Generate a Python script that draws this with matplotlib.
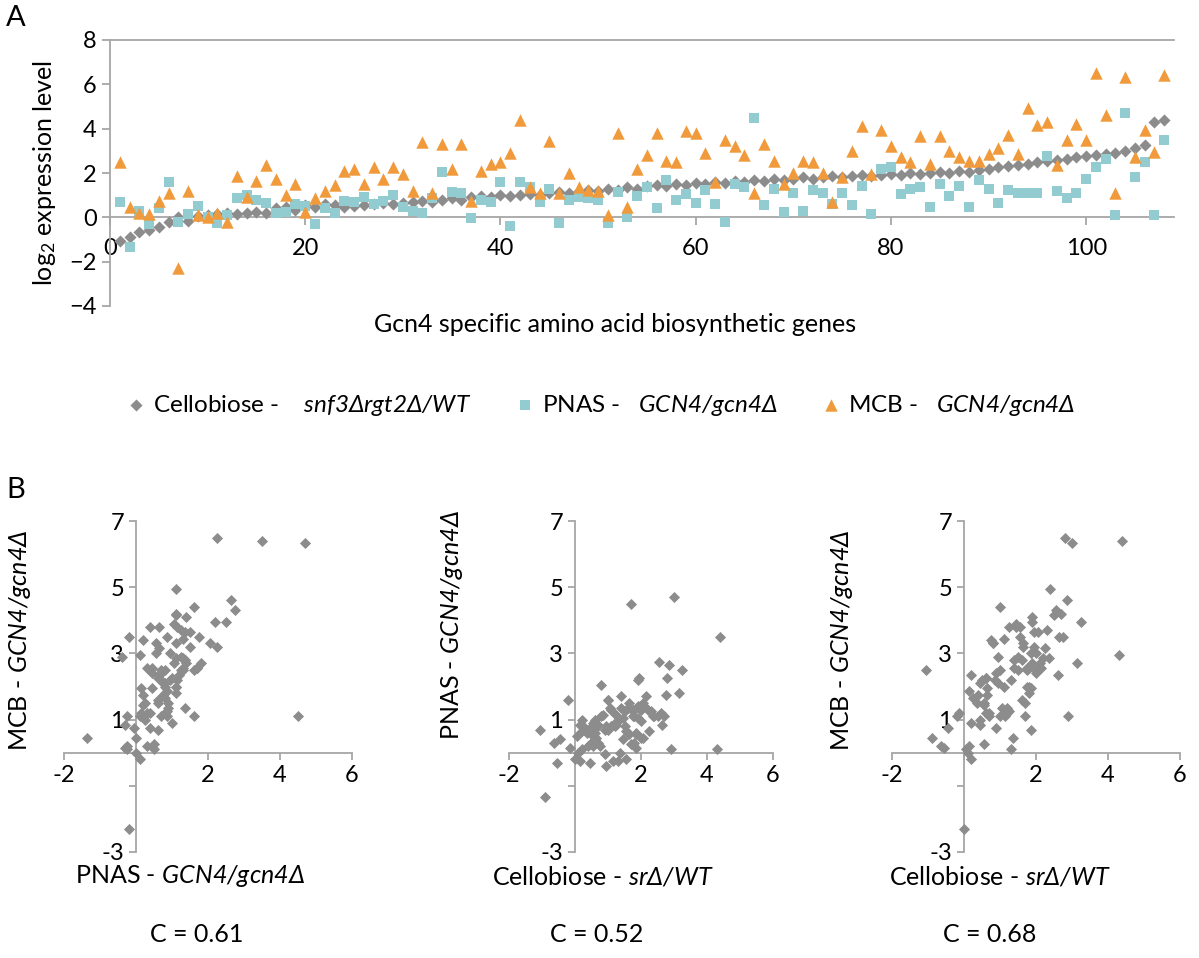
import matplotlib

matplotlib.use("Agg")
import matplotlib.pyplot as plt
import numpy as np

# log2 expression of the Gcn4 target genes, ordered as in panel A
cellobiose = [
    -1.05, -0.9, -0.65, -0.55, -0.45, -0.2, 0.0, -0.15, 0.05, 0.1,
    0.15, 0.2, 0.15, 0.2, 0.25, 0.2, 0.4, 0.45, 0.35, 0.55,
    0.45, 0.6, 0.55, 0.45, 0.5, 0.55, 0.6, 0.65, 0.6, 0.65,
    0.7, 0.75, 0.7, 0.8, 0.85, 0.8, 0.9, 0.95, 0.9, 1.0,
    0.95, 1.0, 1.05, 1.0, 1.1, 1.15, 1.1, 1.2, 1.25, 1.2,
    1.3, 1.25, 1.35, 1.3, 1.4, 1.45, 1.4, 1.5, 1.45, 1.55,
    1.5, 1.6, 1.55, 1.65, 1.6, 1.7, 1.65, 1.75, 1.7, 1.75,
    1.8, 1.75, 1.8, 1.85, 1.8, 1.85, 1.9, 1.85, 1.9, 1.95,
    1.9, 2.0, 1.95, 2.0, 2.05, 2.0, 2.1, 2.05, 2.15, 2.2,
    2.25, 2.3, 2.35, 2.4, 2.5, 2.55, 2.6, 2.65, 2.7, 2.75,
    2.8, 2.85, 2.9, 3.0, 3.15, 3.25, 4.3, 4.4,
]
pnas = [
    0.7, -1.35, 0.3, -0.3, 0.4, 1.6, -0.2, 0.15, 0.5, 0.0,
    -0.25, 0.1, 0.85, 1.0, 0.8, 0.65, 0.2, 0.25, 0.6, 0.5,
    -0.3, 0.4, 0.2, 0.75, 0.7, 0.9, 0.6, 0.75, 1.0, 0.45,
    0.3, 0.2, 0.85, 2.05, 1.15, 1.1, -0.05, 0.8, 0.7, 1.6,
    -0.4, 1.6, 1.35, 0.7, 1.3, -0.25, 0.8, 0.9, 0.85, 0.8,
    -0.25, 1.15, 0.0, 0.95, 1.35, 0.4, 1.7, 0.8, 1.05, 0.65,
    1.25, 0.6, -0.2, 1.5, 1.35, 4.5, 0.55, 1.3, 0.25, 1.1,
    0.3, 1.25, 1.1, 0.6, 1.1, 0.55, 1.4, 0.15, 2.2, 2.25,
    1.05, 1.3, 1.35, 0.45, 1.5, 0.95, 1.4, 0.45, 1.7, 1.3,
    0.65, 1.25, 1.1, 1.1, 1.1, 2.75, 1.2, 0.85, 1.1, 1.75,
    2.25, 2.65, 0.1, 4.7, 1.8, 2.5, 0.1, 3.5,
]
mcb = [
    2.5, 0.45, 0.2, 0.15, 0.75, 1.1, -2.3, 1.2, 0.1, 0.0,
    0.2, -0.2, 1.85, 0.9, 1.65, 2.35, 1.75, 1.0, 1.5, 0.25,
    0.85, 1.2, 1.45, 2.1, 2.2, 1.5, 2.25, 1.75, 2.25, 1.95,
    1.2, 3.4, 1.1, 3.3, 2.2, 3.3, 0.75, 2.1, 2.4, 2.5,
    2.9, 4.4, 1.35, 1.1, 3.45, 1.1, 2.0, 1.35, 1.25, 1.2,
    0.1, 3.8, 0.45, 2.2, 2.8, 3.8, 2.55, 2.5, 3.9, 3.8,
    2.9, 1.6, 3.5, 3.2, 2.8, 1.1, 3.3, 2.55, 1.5, 2.0,
    2.55, 2.5, 2.0, 0.7, 1.8, 3.0, 4.1, 1.95, 3.95, 3.2,
    2.7, 2.5, 3.65, 2.4, 3.65, 3.0, 2.7, 2.55, 2.55, 2.85,
    3.15, 3.7, 2.85, 4.95, 4.15, 4.3, 2.35, 3.5, 4.2, 3.5,
    6.5, 4.6, 1.1, 6.35, 2.7, 3.95, 2.95, 6.4,
]
genes = np.arange(1, len(cellobiose) + 1)

GRAY = "#8c8c8c"
TEAL = "#92cbd0"
ORANGE = "#f09a3b"
AXIS = "#a6a6a6"

plt.rcParams["font.family"] = ["Lato", "DejaVu Sans"]
# math mode is only used for the italic gene names (and the log2 subscript)
plt.rcParams["mathtext.fontset"] = "custom"
plt.rcParams["mathtext.rm"] = "Lato:italic"
plt.rcParams["mathtext.it"] = "Lato:italic"
plt.rcParams["mathtext.sf"] = "Lato"
plt.rcParams["mathtext.bf"] = "Lato:bold"
plt.rcParams["mathtext.fallback"] = "stixsans"

W, H = 1199, 958
fig = plt.figure(figsize=(W / 100, H / 100), dpi=100)


def box(l, t, r, b):
    return [l / W, 1 - b / H, (r - l) / W, (b - t) / H]


def ftext(x, y, s, **kw):
    fig.text(x / W, 1 - y / H, s, ha="center", va="center", **kw)


def style(a):
    for side in ("left", "bottom", "top", "right"):
        a.spines[side].set_color(AXIS)
        a.spines[side].set_linewidth(1.3)
    a.tick_params(direction="out", length=6, width=1.3, color=AXIS,
                  labelsize=17, labelcolor="black")


# ---- panel A ----
ax = fig.add_axes(box(110, 40, 1174, 306))
h1 = ax.scatter(genes, cellobiose, marker="D", s=38, color=GRAY, lw=0, zorder=3)
h2 = ax.scatter(genes, pnas, marker="s", s=58, color=TEAL, lw=0, zorder=4)
h3 = ax.scatter(genes, mcb, marker="^", s=80, color=ORANGE, lw=0, zorder=5)
ax.set_xlim(0, 109)
ax.set_ylim(-4, 8)
ax.set_yticks(range(-4, 9, 2))
ax.set_xticks(range(0, 101, 20))
style(ax)
ax.spines["right"].set_visible(False)
ax.spines["bottom"].set_position(("data", 0))
ax.tick_params(axis="x", pad=9)
ax.set_ylabel("log$_{\\mathsf{2}}$ expression level", fontsize=18, labelpad=8)
ftext(615, 325, "Gcn4 specific amino acid biosynthetic genes", fontsize=18)

fig.legend(
    [h1, h2, h3],
    ["Cellobiose -    $snf3\u0394rgt2\u0394/WT$",
     "PNAS -   $GCN4/gcn4\u0394$",
     "MCB -   $GCN4/gcn4\u0394$"],
    loc="center", bbox_to_anchor=(600 / W, 1 - 405 / H), ncol=3, frameon=False,
    fontsize=17.5, handletextpad=0.2, columnspacing=1.7, handlelength=1.0,
)

ftext(16, 18, "A", fontsize=21)
ftext(16, 490, "B", fontsize=21)


# ---- panel B ----
def corr_panel(rect, x, y, xlabel, ylabel, coef, xl_pos, yl_pos, c_pos):
    a = fig.add_axes(box(*rect))
    a.scatter(x, y, marker="D", s=32, color=GRAY, lw=0, zorder=3)
    a.set_xlim(-2, 6)
    a.set_ylim(-3, 7)
    a.set_xticks([-2, 0, 2, 4, 6], ["-2", "", "2", "4", "6"])
    a.set_yticks([-3, -1, 1, 3, 5, 7], ["-3", "", "1", "3", "5", "7"])
    style(a)
    a.spines["top"].set_visible(False)
    a.spines["right"].set_visible(False)
    a.spines["left"].set_position(("data", 0))
    a.spines["bottom"].set_position(("data", 0))
    a.tick_params(length=5)
    ftext(*xl_pos, xlabel, fontsize=18)
    ftext(*yl_pos, ylabel, fontsize=18, rotation=90)
    ftext(*c_pos, coef, fontsize=18)


GCN = "$GCN4/gcn4\u0394$"
SR = "$sr\u0394/WT$"

corr_panel((64, 521, 352, 852), pnas, mcb, "PNAS - " + GCN, "MCB - " + GCN,
           "C = 0.61", (190, 876), (20, 640), (197, 935))
corr_panel((509, 521, 773, 852), cellobiose, pnas, "Cellobiose - " + SR,
           "PNAS - " + GCN, "C = 0.52", (603, 876), (452, 625), (597, 935))
corr_panel((892, 521, 1180, 852), cellobiose, mcb, "Cellobiose - " + SR,
           "MCB - " + GCN, "C = 0.68", (1000, 876), (842, 640), (990, 935))

fig.savefig("out.png", dpi=100)
